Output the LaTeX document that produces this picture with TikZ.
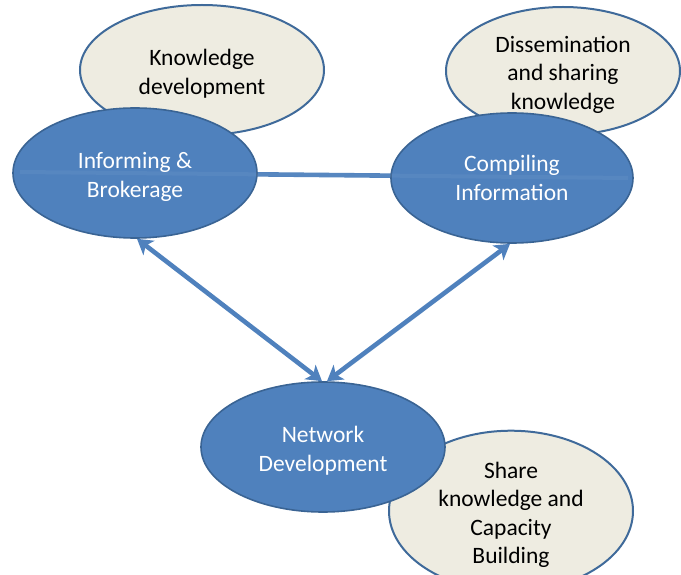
\documentclass[tikz,border=0pt]{standalone}
\usepackage{fontspec}
\setmainfont{Carlito}
\usetikzlibrary{shapes.geometric,arrows.meta}
\definecolor{bluefill}{HTML}{4F81BD}
\definecolor{blueline}{HTML}{3A6494}
\definecolor{beigefill}{HTML}{EEECE1}
\definecolor{beigeline}{HTML}{3F6A9A}
\definecolor{arrowblue}{HTML}{4F81BD}
\newcommand\dnstrut{\rule{0pt}{24pt}}
\tikzset{
  bubble/.style={ellipse, inner sep=0pt, minimum width=244pt, minimum height=130pt,
    align=center, font=\fontsize{23.5pt}{28.5pt}\selectfont},
  bluebub/.style={bubble, fill=bluefill, draw=blueline, line width=1.6pt, text=white},
  beigebub/.style={bubble, fill=beigefill, draw=beigeline, line width=2pt, text=black},
  arr/.style={draw=arrowblue, line width=4.6pt,
    {Stealth[length=15pt,width=18pt,inset=4pt]}-{Stealth[length=15pt,width=18pt,inset=4pt]}},
  faint/.style={draw=white, line width=4pt, draw opacity=0.05}
}
\begin{document}
\begin{tikzpicture}[x=1pt,y=-1pt]
\useasboundingbox (0,0) rectangle (681,575);
% background beige bubbles
\node[beigebub] (kd) at (202,70) {\dnstrut Knowledge\\development};
\node[beigebub, minimum width=234pt, minimum height=128pt] (ds) at (563,71) {\dnstrut Dissemination\\and sharing\\knowledge};
\node[beigebub, minimum height=125pt] (sk) at (511,511) {\dnstrut Share\\knowledge and\\Capacity\\Building};
% horizontal arrow, passing under the blue bubbles
\draw[arr] (20,172) coordinate (hl) -- (628,178) coordinate (hr);
% blue bubbles
\node[bluebub] (inf) at (135,173) {\dnstrut Informing \&\\Brokerage};
\node[bluebub, minimum width=242pt] (comp) at (512,178) {Compiling\\Information};
\node[bluebub] (net) at (323,447) {\dnstrut Network\\Development};
% faint trace of horizontal arrow through blue bubbles
\draw[faint] (hl) -- (hr);
% diagonal arrows
\draw[arr] ([xshift=2pt]inf.south) -- ([xshift=-1pt]net.north);
\draw[arr] ([xshift=-2pt]comp.south) -- ([xshift=4pt]net.north);
\end{tikzpicture}
\end{document}
